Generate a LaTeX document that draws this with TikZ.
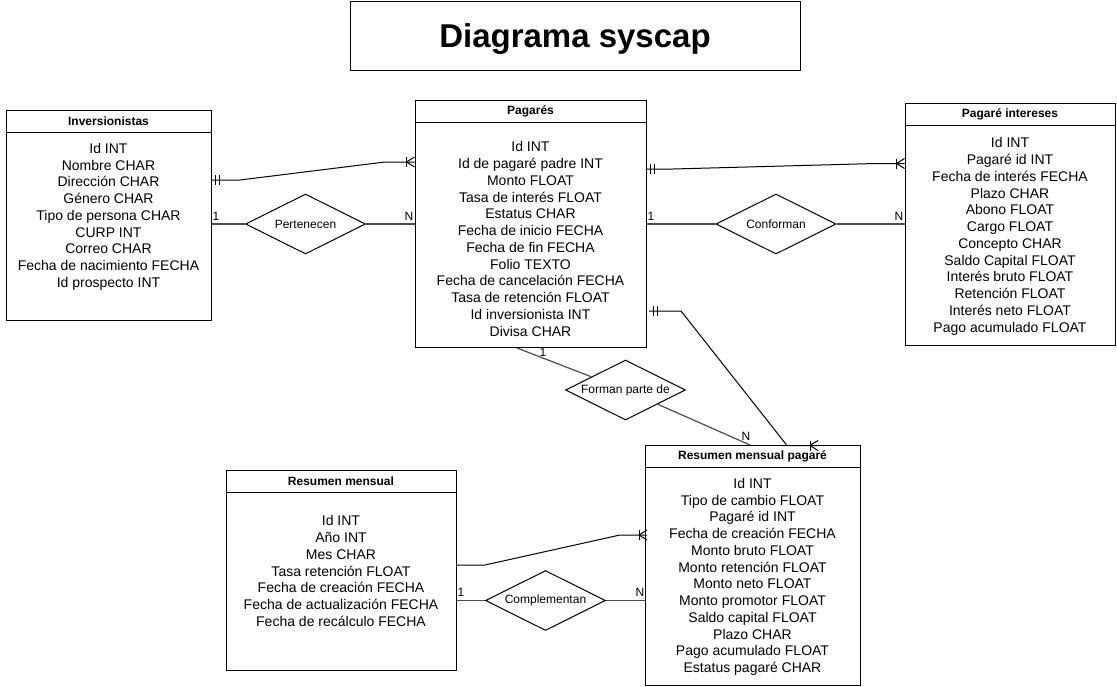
\documentclass[tikz,border=0pt]{standalone}
\usepackage{fontspec}
\setmainfont{Liberation Sans}
\usetikzlibrary{shapes.geometric,calc}

\newcommand\attrfont{\fontsize{14}{16.75}\selectfont}
\newcommand\hdrfont{\fontsize{12}{14}\selectfont\bfseries}
\newcommand\relfont{\fontsize{12}{14}\selectfont}
\newcommand\ttlfont{\fontsize{33}{39}\selectfont\bfseries}

% ER end marks: #1 end point on the entity, #2 = +1 if the line leaves to the right, -1 if to the left
\newcommand\ermandone[2]{%
  \draw[conn] ($(#1)+(#2*4,-5)$) -- ++(0,10);
  \draw[conn] ($(#1)+(#2*8,-5)$) -- ++(0,10);}
\newcommand\eronemany[2]{%
  \draw[conn] ($(#1)+(#2*8,-5)$) -- ++(0,10);
  \draw[conn] ($(#1)+(#2*8,0)$) -- ($(#1)+(0,-5)$);
  \draw[conn] ($(#1)+(#2*8,0)$) -- ($(#1)+(0,5)$);}

\begin{document}
\begin{tikzpicture}[x=1pt,y=-1pt,
  entity/.style={draw, line width=1pt, fill=white, rectangle, inner sep=0pt},
  hdr/.style={font=\hdrfont, inner sep=0pt},
  attr/.style={font=\attrfont, align=center, inner sep=0pt, anchor=north},
  rel/.style={draw, line width=1pt, fill=white, diamond, aspect=2, minimum width=120pt, minimum height=60pt, inner sep=0pt, font=\relfont},
  conn/.style={line width=1pt, black},
  rline/.style={line width=1.2pt, black!70},
  card/.style={font=\relfont, inner sep=0pt},
  ttlbox/.style={draw, line width=1pt, minimum width=450pt, minimum height=69pt, inner sep=0pt},
  ttl/.style={font=\ttlfont, inner sep=0pt, anchor=base}]
\useasboundingbox (0,0) rectangle (1117,686);

% title
\node[ttlbox] (title) at (575,35.5) {};
\node[ttl] (titletext) at (575,47) {Diagrama syscap};

% entities
\node[entity, minimum width=205pt, minimum height=210pt] (inv) at (108.5,215) {};
\draw[conn] ([yshift=-23pt]inv.north west) -- ([yshift=-23pt]inv.north east);
\node[hdr] (invh) at ([yshift=-11.5pt]inv.north) {Inversionistas};
\node[attr] (inva) at (108.5,143) {Id INT\\Nombre CHAR\\Dirección CHAR\\Género CHAR\\Tipo de persona CHAR\\CURP INT\\Correo CHAR\\Fecha de nacimiento FECHA\\Id prospecto INT};

\node[entity, minimum width=231pt, minimum height=247pt] (pg) at (530.5,223.5) {};
\draw[conn] ([yshift=-23pt]pg.north west) -- ([yshift=-23pt]pg.north east);
\node[hdr] (pgh) at ([yshift=-11.5pt]pg.north) {Pagarés};
\node[attr] (pga) at (530.5,141.5) {Id INT\\Id de pagaré padre INT\\Monto FLOAT\\Tasa de interés FLOAT\\Estatus CHAR\\Fecha de inicio FECHA\\Fecha de fin FECHA\\Folio TEXTO\\Fecha de cancelación FECHA\\Tasa de retención FLOAT\\Id inversionista INT\\Divisa CHAR};

\node[entity, minimum width=210pt, minimum height=242pt] (pi) at (1010,224) {};
\draw[conn] ([yshift=-23pt]pi.north west) -- ([yshift=-23pt]pi.north east);
\node[hdr] (pih) at ([yshift=-11.5pt]pi.north) {Pagaré intereses};
\node[attr] (pia) at (1010,137.5) {Id INT\\Pagaré id INT\\Fecha de interés FECHA\\Plazo CHAR\\Abono FLOAT\\Cargo FLOAT\\Concepto CHAR\\Saldo Capital FLOAT\\Interés bruto FLOAT\\Retención FLOAT\\Interés neto FLOAT\\Pago acumulado FLOAT};

\node[entity, minimum width=230pt, minimum height=200pt] (rm) at (341,570) {};
\draw[conn] ([yshift=-23pt]rm.north west) -- ([yshift=-23pt]rm.north east);
\node[hdr] (rmh) at ([yshift=-11.5pt]rm.north) {Resumen mensual};
\node[attr] (rma) at (341,515.5) {Id INT\\Año INT\\Mes CHAR\\Tasa retención FLOAT\\Fecha de creación FECHA\\Fecha de actualización FECHA\\Fecha de recálculo FECHA};

\node[entity, minimum width=215pt, minimum height=240pt] (rmp) at (752.5,565) {};
\draw[conn] ([yshift=-23pt]rmp.north west) -- ([yshift=-23pt]rmp.north east);
\node[hdr] (rmph) at ([yshift=-11.5pt]rmp.north) {Resumen mensual pagaré};
\node[attr] (rmpa) at (752.5,478) {Id INT\\Tipo de cambio FLOAT\\Pagaré id INT\\Fecha de creación FECHA\\Monto bruto FLOAT\\Monto retención FLOAT\\Monto neto FLOAT\\Monto promotor FLOAT\\Saldo capital FLOAT\\Plazo CHAR\\Pago acumulado FLOAT\\Estatus pagaré CHAR};

% relationships
\node[rel] (pert) at (305.5,224) {Pertenecen};
\node[rel] (conf) at (776,224) {Conforman};
\node[rel] (fp) at (625.5,390) {Forman parte de};
\node[rel] (comp) at (545.5,600.5) {Complementan};

% Inversionistas -- Pagares (ER)
\coordinate (c1a) at (240,180);
\coordinate (c1b) at (385,162);
\coordinate (e1s) at (inv.east |- c1a);
\coordinate (e1t) at (pg.west |- c1b);
\draw[conn] (e1s) -- (c1a) -- (c1b) -- (e1t);
\ermandone{e1s}{1}
\eronemany{e1t}{-1}

% Pertenecen
\draw[rline] (inv.east |- pert.west) -- (pert.west);
\draw[rline] (pert.east) -- (pg.west |- pert.east);
\node[card] (pert1) at (216,216) {1};
\node[card] (pertn) at (409,216) {N};

% Pagares -- Pagare intereses (ER)
\coordinate (c3a) at (673,169);
\coordinate (c3b) at (876,163.5);
\coordinate (e3s) at (pg.east |- c3a);
\coordinate (e3t) at (pi.west |- c3b);
\draw[conn] (e3s) -- (c3a) -- (c3b) -- (e3t);
\ermandone{e3s}{1}
\eronemany{e3t}{-1}

% Conforman
\draw[rline] (pg.east |- conf.west) -- (conf.west);
\draw[rline] (conf.east) -- (pi.west |- conf.east);
\node[card] (conf1) at (651,216) {1};
\node[card] (confn) at (899,216) {N};

% Pagares -- Resumen mensual pagare (ER)
\coordinate (e5s) at (649,311);
\coordinate (c5a) at (681,311);
\coordinate (c5b) at (787,445.5);
\coordinate (e5t) at (818,445.5);
\draw[conn] (e5s) -- (c5a) -- (c5b) -- (e5t);
\ermandone{e5s}{1}
\eronemany{e5t}{-1}

% Forman parte de
\coordinate (f1) at (517,348);
\coordinate (f2) at (750,445);
\draw[rline] (f1) -- (fp);
\draw[rline] (fp) -- (f2);
\node[card] (fp1) at (543,352) {1};
\node[card] (fpn) at (746,436) {N};

% Resumen mensual -- Resumen mensual pagare (ER)
\coordinate (c7a) at (485,565);
\coordinate (c7b) at (620,535);
\coordinate (e7s) at (rm.east |- c7a);
\coordinate (e7t) at (647,535);
\draw[conn] (e7s) -- (c7a) -- (c7b) -- (e7t);
\eronemany{e7t}{-1}

% Complementan
\draw[rline] (rm.east |- comp.west) -- (comp.west);
\draw[rline] (comp.east) -- (rmp.west |- comp.east);
\node[card] (comp1) at (461,592) {1};
\node[card] (compn) at (640,592) {N};
\end{tikzpicture}
\end{document}
